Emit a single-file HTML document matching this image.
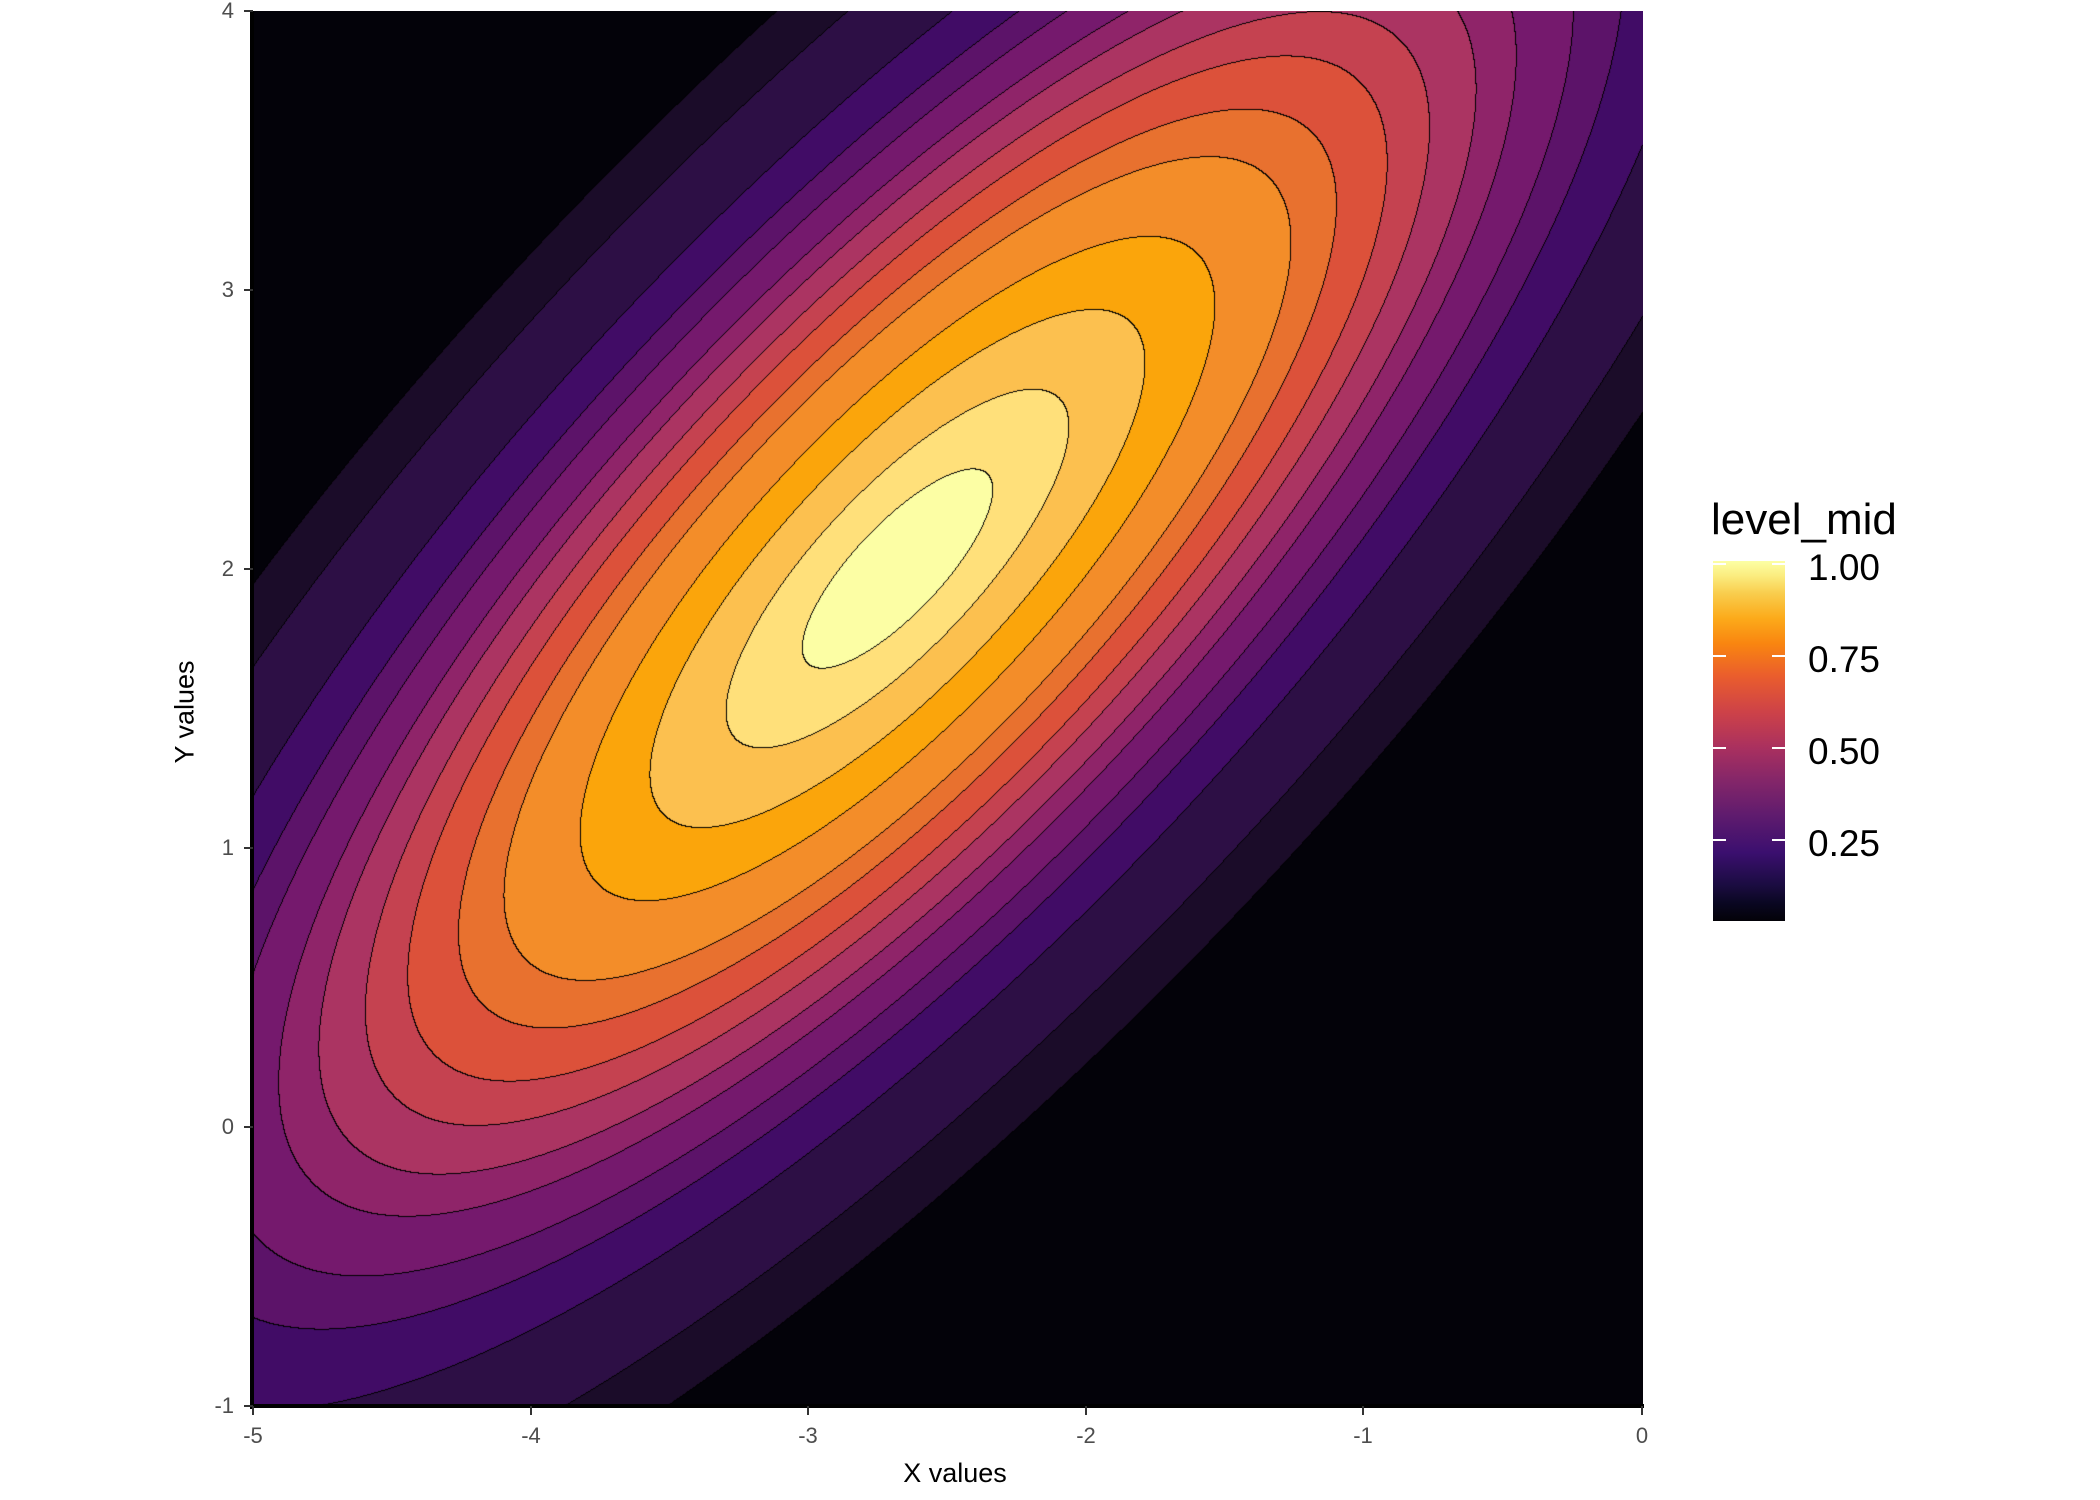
<!DOCTYPE html>
<html><head><meta charset="utf-8"><style>
html,body{margin:0;padding:0;background:#fff;}
#w{position:relative;width:2100px;height:1500px;overflow:hidden;font-family:"Liberation Sans",Arial,sans-serif;}
canvas{position:absolute;left:253px;top:11px;}
.t{position:absolute;color:#4d4d4d;font-size:22px;}
.xl{transform:translateX(-50%);top:1423px;}
.yl{text-align:right;width:40px;transform:translateY(-50%);left:194px;}
.tx{position:absolute;width:2px;height:9px;background:#333;top:1406px;}
.ty{position:absolute;height:2px;width:9px;background:#333;left:244px;}
.lt{position:absolute;left:1808px;font-size:37px;color:#000;transform:translateY(-50%);}
.lk{position:absolute;height:2px;width:13px;background:#fff;}
</style></head><body><div id="w">
<canvas id="c" width="1390" height="1395"></canvas>
<div style="position:absolute;left:250px;top:11px;width:4px;height:1398px;background:#000"></div>
<div style="position:absolute;left:250px;top:1404px;width:1394px;height:4px;background:#000"></div>

<div class="tx" style="left:252px"></div><div class="tx" style="left:530px"></div><div class="tx" style="left:807px"></div><div class="tx" style="left:1085px"></div><div class="tx" style="left:1362px"></div><div class="tx" style="left:1641px"></div>
<div class="t xl" style="left:253px">-5</div><div class="t xl" style="left:531px">-4</div><div class="t xl" style="left:808px">-3</div><div class="t xl" style="left:1086px">-2</div><div class="t xl" style="left:1363px">-1</div><div class="t xl" style="left:1642px">0</div>

<div class="ty" style="top:1405px"></div><div class="ty" style="top:1126px"></div><div class="ty" style="top:847px"></div><div class="ty" style="top:568px"></div><div class="ty" style="top:289px"></div><div class="ty" style="top:10px"></div>
<div class="t yl" style="top:1406px">-1</div><div class="t yl" style="top:1127px">0</div><div class="t yl" style="top:848px">1</div><div class="t yl" style="top:569px">2</div><div class="t yl" style="top:290px">3</div><div class="t yl" style="top:11px">4</div>

<div style="position:absolute;left:955px;top:1458px;transform:translateX(-50%);font-size:27px;color:#000">X values</div>
<div style="position:absolute;left:185px;top:712px;transform:translate(-50%,-50%) rotate(-90deg);font-size:27px;color:#000;white-space:nowrap">Y values</div>

<div style="position:absolute;left:1711px;top:495px;font-size:44px;color:#000">level_mid</div>
<div style="position:absolute;left:1713px;top:561px;width:72px;height:360px;background:linear-gradient(to top,#030208 0%,#0a0722 5%,#1b0c41 10%,#3b0f6f 19%,#5e1b6e 29%,#842669 39%,#a9305f 48%,#cd4248 58%,#ea5d2d 68%,#f98510 77%,#fcaa1a 84%,#f9cd4d 91%,#fbed80 96%,#fcffa4 100%)"></div>
<div class="lk" style="left:1713px;top:563px"></div><div class="lk" style="left:1772px;top:563px"></div>
<div class="lk" style="left:1713px;top:655px"></div><div class="lk" style="left:1772px;top:655px"></div>
<div class="lk" style="left:1713px;top:747px"></div><div class="lk" style="left:1772px;top:747px"></div>
<div class="lk" style="left:1713px;top:839px"></div><div class="lk" style="left:1772px;top:839px"></div>
<div class="lt" style="top:568px">1.00</div>
<div class="lt" style="top:660px">0.75</div>
<div class="lt" style="top:752px">0.50</div>
<div class="lt" style="top:844px">0.25</div>
</div>
<script>
(function(){
var cv=document.getElementById('c'),ctx=cv.getContext('2d'),W=1390,H=1395;
var cols=['#030209','#1b0c29','#2d0f45','#410c66','#5c1369','#75196d','#8f2469','#ab3462','#c54250','#dc513a','#e8712f','#f38d29','#fba50b','#fcc04f','#ffe07a','#fcfea4'];
var rgb=cols.map(function(h){return [parseInt(h.substr(1,2),16),parseInt(h.substr(3,2),16),parseInt(h.substr(5,2),16)];});
var th=[0.982,0.889,0.761,0.687,0.639,0.585,0.547,0.503,0.463,0.415,0.372,0.300,0.234,0.162,0.09];
var a=0.186,b=-0.1414,c=0.171,cx=-2.68,cy=2.0;
var band=new Uint8Array(W*H);
for(var j=0;j<H;j++){var y=4-(j+0.5)/H*5,dy=y-cy;
 for(var i=0;i<W;i++){var x=-5+(i+0.5)/W*5,dx=x-cx;
  var s=Math.sqrt(Math.max(0,a*dx*dx+2*b*dx*dy+c*dy*dy));
  var n=0;for(var k=0;k<15;k++){if(s<=th[k])n++;else break;}
  band[j*W+i]=n;}}
var img=ctx.createImageData(W,H),d=img.data;
for(var j=0;j<H;j++)for(var i=0;i<W;i++){var p=j*W+i,bb=band[p],q=p*4;
 var line=(i<W-1&&band[p+1]!=bb)||(j<H-1&&band[p+W]!=bb);
 if(line){d[q]=0;d[q+1]=0;d[q+2]=0;}else{var r=rgb[bb];d[q]=r[0];d[q+1]=r[1];d[q+2]=r[2];}
 d[q+3]=255;}
ctx.putImageData(img,0,0);
})();
</script>
</body></html>
